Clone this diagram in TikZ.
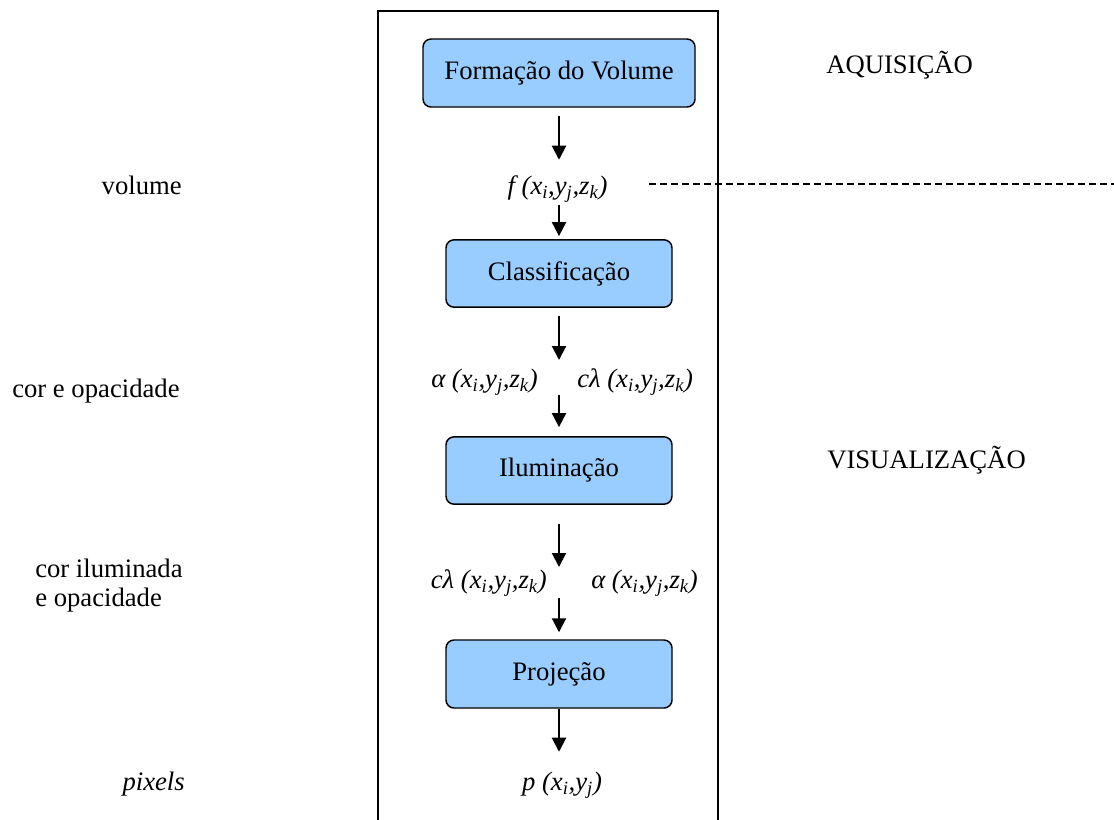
\documentclass[tikz,border=0pt]{standalone}
\usepackage{fontspec}
\setmainfont{Liberation Serif}
\usepackage{xcolor}
\usetikzlibrary{arrows.meta}
\definecolor{azulcaja}{RGB}{153,204,255}
\newcommand\tamano{\fontsize{20}{21.75}\selectfont}
\newcommand\ptxyz{(x\textsubscript{i},y\textsubscript{j},z\textsubscript{k})}
\tikzset{
  etapa/.style={draw=black,fill=azulcaja,line width=1.1pt,rounded corners=6pt,
    inner sep=0pt,minimum width=169.5pt,minimum height=50.5pt},
  rotulo/.style={inner sep=0pt},
  dado/.style={inner sep=0pt,text height=13pt,text depth=4pt,font=\tamano\itshape},
  flecha/.style={-{Triangle[width=10.5pt,length=10.5pt]},line width=1.5pt},
  marco/.style={line width=1pt},
  divisa/.style={line width=1pt,dash pattern=on 5.25pt off 3pt}
}

\begin{document}
\begin{tikzpicture}[x=0.75pt,y=-0.75pt,font=\tamano]
\useasboundingbox (0,0) rectangle (1114,819);
% marco central
\draw[marco] (378,830) -- (378,11) -- (718,11) -- (718,830);
\draw[divisa] (649,184) -- (1114,184);
% etapas
\node[etapa,minimum width=204pt,minimum height=51pt] (formacao) at (559,73) {Formação do Volume};
\node[etapa] (classif) at (559,273.5) {Classificação};
\node[etapa] (ilum) at (559,470.5) {Iluminação};
\node[etapa,minimum height=51pt] (proj) at (559,674) {Projeção};
% dados
\node[dado,anchor=base] (fvol) at (557.5,194) {f \ptxyz};
\node[dado,anchor=base east] (alfaA) at (538,387) {α \ptxyz};
\node[dado,anchor=base west] (corA) at (577,387) {cλ \ptxyz};
\node[dado,anchor=base east] (corB) at (547,588) {cλ \ptxyz};
\node[dado,anchor=base west] (alfaB) at (591,588) {α \ptxyz};
\node[dado,anchor=base] (pix) at (562,790) {p (x\textsubscript{i},y\textsubscript{j})};
\coordinate (finA) at (559,360);
\coordinate (iniA) at (559,395);
\coordinate (finB) at (559,567);
\coordinate (iniB) at (559,598);
% flechas
\draw[flecha,shorten <=6pt,shorten >=12.5pt] (formacao.south) -- (formacao.south |- fvol.north);
\draw[flecha,shorten <=4.3pt,shorten >=2.25pt] (classif.north |- fvol.south) -- (classif.north);
\draw[flecha,shorten <=6pt] (classif.south) -- (finA);
\draw[flecha,shorten >=6.75pt] (iniA) -- (ilum.north);
\draw[flecha,shorten <=14.25pt] (ilum.south) -- (finB);
\draw[flecha,shorten >=5.25pt] (iniB) -- (proj.north);
\draw[flecha,shorten >=15.5pt] (proj.south) -- (proj.south |- pix.north);
% rotulos laterales
\node[rotulo,anchor=base east] (rotVol) at (182,194) {volume};
\node[rotulo,anchor=base west] (rotCor) at (12,397) {cor e opacidade};
\node[rotulo,anchor=base west,align=left] (rotIlum) at (35,606) {cor iluminada\\e opacidade};
\node[rotulo,anchor=base east,font=\tamano\itshape] (rotPix) at (185,790) {pixels};
\node[rotulo,anchor=base west] (aquis) at (826,73) {AQUISIÇÃO};
\node[rotulo,anchor=base west] (visual) at (827,468) {VISUALIZAÇÃO};
\end{tikzpicture}
\end{document}
